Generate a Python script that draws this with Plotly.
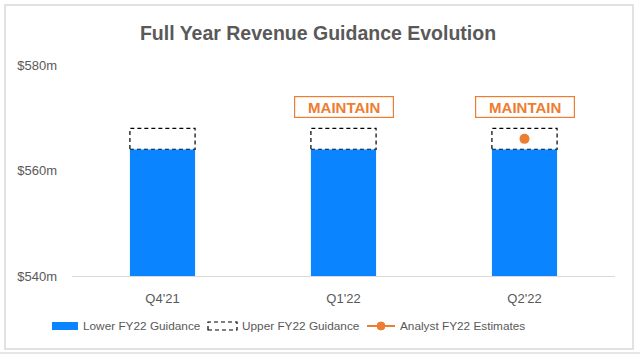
import plotly.graph_objects as go

categories = ["Q4'21", "Q1'22", "Q2'22"]
lower_guidance = [564, 564, 564]
upper_guidance = [568, 568, 568]
analyst_estimates = [None, None, 566]
status_labels = [None, "MAINTAIN", "MAINTAIN"]
y_ticks = [540, 560, 580]
y_tick_labels = ["$540m", "$560m", "$580m"]
series_names = ["Lower FY22 Guidance", "Upper FY22 Guidance", "Analyst FY22 Estimates"]

BLUE = "#0A84FF"
ORANGE = "#ED7D31"
GRAY = "#595959"
FONT = "Liberation Sans"
DASH = "4px,3px"
bar_w = 0.36
xs = list(range(len(categories)))

W, H = 640, 359
L, R, T, B = 72, W - 615, 65, H - 276
pw, ph = W - L - R, H - T - B
def px(x):
    return (x - L) / pw
def py(y):
    return (H - B - y) / ph

fig = go.Figure()
fig.add_trace(go.Bar(x=xs, y=[v - y_ticks[0] for v in lower_guidance], base=y_ticks[0],
                     width=bar_w, marker=dict(color=BLUE, line=dict(width=0)),
                     name=series_names[0], showlegend=False))

for i, (lo, hi) in enumerate(zip(lower_guidance, upper_guidance)):
    fig.add_shape(type="rect", xref="x", yref="y", x0=i - bar_w / 2, x1=i + bar_w / 2,
                  y0=lo, y1=hi, fillcolor="white", layer="below",
                  line=dict(color="black", width=1.2, dash=DASH))

fig.add_trace(go.Scatter(x=xs, y=analyst_estimates, mode="lines+markers",
                         line=dict(color=ORANGE, width=2), marker=dict(color=ORANGE, size=10),
                         name=series_names[2], showlegend=False))

for i, lab in enumerate(status_labels):
    if lab:
        fig.add_annotation(x=i, y=572, xref="x", yref="y", text="<b>%s</b>" % lab,
                           showarrow=False, font=dict(color=ORANGE, size=15, family=FONT),
                           bordercolor=ORANGE, borderwidth=1.2, bgcolor="white",
                           width=96, height=18, borderpad=1)

# manual legend
ly = 326
fig.add_shape(type="rect", xref="paper", yref="paper", x0=px(52), x1=px(78), y0=py(330), y1=py(322),
              fillcolor=BLUE, line=dict(width=0))
fig.add_shape(type="rect", xref="paper", yref="paper", x0=px(208), x1=px(237), y0=py(330), y1=py(322),
              fillcolor="white", line=dict(color="black", width=1.2, dash=DASH))
fig.add_shape(type="line", xref="paper", yref="paper", x0=px(367), x1=px(395), y0=py(ly), y1=py(ly),
              line=dict(color=ORANGE, width=2))
fig.add_shape(type="circle", xref="paper", yref="paper", x0=px(377), x1=px(385), y0=py(330), y1=py(322),
              fillcolor=ORANGE, line=dict(color=ORANGE, width=1))
for xpix, name in zip([81, 240, 398], series_names):
    fig.add_annotation(x=px(xpix), y=py(ly), xref="paper", yref="paper", text=name,
                       xanchor="left", yanchor="middle", showarrow=False,
                       font=dict(size=11.8, color=GRAY, family=FONT))

# outer frame
fig.add_shape(type="rect", xref="paper", yref="paper", x0=px(5), x1=px(633), y0=py(5), y1=py(349),
              line=dict(color="#D9D9D9", width=1.5), layer="below")
fig.add_shape(type="line", xref="paper", yref="paper", x0=px(0), x1=px(640), y0=py(353), y1=py(353),
              line=dict(color="#E6E6E6", width=2), layer="below")

fig.update_layout(
    width=W, height=H, margin=dict(l=L, r=R, t=T, b=B),
    paper_bgcolor="white", plot_bgcolor="white",
    title=dict(text="<b>Full Year Revenue Guidance Evolution</b>", x=318 / W, xanchor="center",
               y=1 - 33 / H, yanchor="middle", font=dict(size=19.5, color=GRAY, family=FONT)),
    font=dict(family=FONT, color=GRAY, size=13),
    showlegend=False,
    xaxis=dict(range=[-0.5, 2.5], tickvals=xs, ticktext=categories, showgrid=False,
               showline=True, linecolor="#D9D9D9", linewidth=1, zeroline=False,
               tickfont=dict(size=13, color=GRAY), ticks="", ticklabelstandoff=10, automargin=False),
    yaxis=dict(range=[540, 580], tickvals=y_ticks, ticktext=y_tick_labels, showgrid=False,
               zeroline=False, showline=False, tickfont=dict(size=13, color=GRAY),
               ticklabelstandoff=14, automargin=False),
)

fig.write_html("out.html", config={"displayModeBar": False},
               post_script="document.body.style.margin='0';")
